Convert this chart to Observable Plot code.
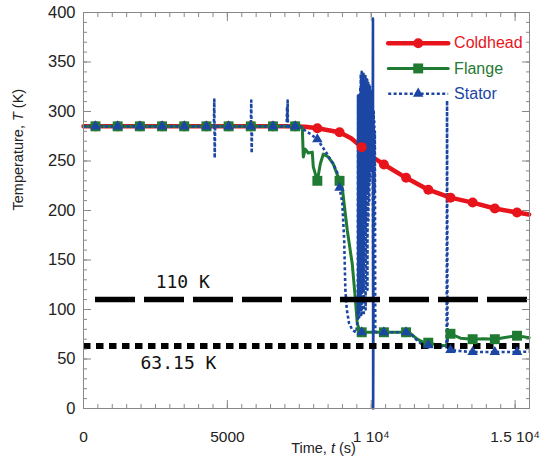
<!DOCTYPE html>
<html><head><meta charset="utf-8">
<script src="https://cdn.jsdelivr.net/npm/d3@7"></script>
<script src="https://cdn.jsdelivr.net/npm/@observablehq/plot@0.6"></script>
<style>
body{margin:0;background:#fff;}
#chart svg{font-family:"Liberation Sans",Arial,sans-serif;}
</style>
</head><body><div id="chart"></div>
<script>
// ---------- data (time in s, temperature in K) ----------
const coldheadLine = [[0,285],[7000,285],[7700,284.5],[8127,283],[8898,279],[9300,273],[9669,264],[10100,253],[10440,246.5],[11211,233],[11982,221],[12753,213],[13524,208],[14295,202],[15066,198],[15486,196]];
const flangeLine = [[0,285],[7560,285],[7604,284],[7639,254],[7708,262],[7813,258],[7951,259],[7986,244],[8127,230],[8229,247],[8333,257],[8507,254],[8681,247],[8898,230],[8993,223],[9167,180],[9340,146],[9444,112],[9514,86],[9600,78],[9669,77],[10440,77],[11211,77],[11350,76],[11600,70],[11800,67],[11982,66.5],[12300,64],[12620,63.5],[12660,75.5],[12753,75.5],[13100,71],[13524,70],[13900,70.5],[14295,70],[14700,72],[15066,73.5],[15486,71.5]];
const statorLine = [[0,285],[4530,285],[4545,312],[4560,253],[4575,285],[5815,285],[5830,311],[5845,258],[5860,285],[7060,285],[7075,305],[7085,290],[7095,311],[7105,283],[7120,285],[7535,285],[7639,282],[7900,277],[8127,272],[8403,260],[8681,247],[8854,236],[8898,223],[8993,208],[9060,170],[9100,120],[9150,100],[9230,86],[9350,79],[9480,77],
  [9530,90],[9540,316],[9548,95],[9556,314],[9564,110],[9572,316],[9580,92],[9588,312],[9596,130],[9604,318],[9612,100],[9620,325],[9628,160],[9636,338],[9644,92],[9652,336],[9660,180],[9668,340],[9676,96],[9684,334],[9692,200],[9700,339],[9708,120],[9716,332],[9724,190],[9732,338],[9740,94],[9748,330],[9756,210],[9764,336],[9772,150],[9780,332],[9788,220],[9796,338],[9804,100],[9812,330],[9820,230],[9828,334],[9836,180],[9844,328],[9852,240],[9860,332],[9868,120],[9876,326],[9884,220],[9892,330],[9900,190],[9908,324],[9916,250],[9924,328],[9932,210],[9940,320],[9948,260],[9956,326],[9964,230],[9972,318],[9980,250],[9988,322],[9996,240],[10004,315],[10012,260],[10020,318],[10030,250],[10040,300],[10050,270],
  [10075,90],[10085,300],[10095,180],[10105,290],[10115,220],[10125,280],[10140,78],
  [10200,77],[10440,77],[11211,77],[11350,76],[11550,70],[11750,65],[11982,64],[12400,63],[12620,62],[12635,311],[12650,60],[12753,59],[13100,58],[13524,57],[14295,57],[15066,57],[15486,57.5]];
const statorGlitch = [[10050,270],[10060,394],[10066,0],[10075,90]];

const markerTimes   = [417,1188,1959,2730,3501,4272,5043,5814,6585,7356,8127,8898,9669,10440,11211,11982,12753,13524,14295,15066];
const coldheadMarks = [285,285,285,285,285,285,285,285,285,285,283,279,264,246.5,233,221,213,208,202,198];
const flangeMarks   = [285,285,285,285,285,285,285,285,285,285,230,230,77,77,77,66.5,75.5,70,70,73.5];
const statorMarks   = [285,285,285,285,285,285,285,285,285,285,272,223,77,77,77,64,59,57,57,57];

const seriesNames = ["Coldhead","Flange","Stator"];
const thresholdValues = [110, 63.15];
const thresholdLabels = ["110 K", "63.15 K"];
const thresholdStart  = [417, 0];

const xMajorTicks = [0, 5000, 10000, 15000];
const xTickLabels = ["0", "5000", "1 10\u2074", "1.5 10\u2074"];
const yMajorTicks = [0, 50, 100, 150, 200, 250, 300, 350, 400];

// ---------- styling / layout ----------
const RED = "#e8141c", GREEN = "#1f7a32", BLUE = "#1c46a4";
const colors = [RED, GREEN, BLUE];
const xMinorTicks = d3.range(0, 15501, 500);
const yMinorTicks = d3.range(0, 401, 10);
const legend = {x1: 10590, x2: 12674, xm: 11632, xt: 12880, rows: [369, 343.5, 318]};
const DOTS = "3,2.4";

const pts = a => a.map(([t, T]) => ({t, T}));
const marks = vals => markerTimes.map((t, i) => ({t, T: vals[i]}));
const fmtX = d => xTickLabels[xMajorTicks.indexOf(d)];

const legendData = seriesNames.map((name, i) => ({name, i, y: legend.rows[i]}));
const legendLines = legendData.flatMap(d => [{...d, x: legend.x1}, {...d, x: legend.x2}]);

const chart = Plot.plot({
  width: 540, height: 463,
  marginLeft: 83, marginRight: 11, marginTop: 12, marginBottom: 55,
  x: {domain: [0, 15500]},
  y: {domain: [0, 400]},
  style: {fontFamily: "Liberation Sans, Arial, sans-serif", background: "#fff", color: "#333", overflow: "visible"},
  marks: [
    // series lines
    Plot.line(pts(coldheadLine), {x: "t", y: "T", stroke: RED, strokeWidth: 4.5}),
    Plot.line(pts(flangeLine), {x: "t", y: "T", stroke: GREEN, strokeWidth: 3}),
    Plot.line(pts(statorLine), {x: "t", y: "T", stroke: BLUE, strokeWidth: 2.6, strokeDasharray: DOTS, strokeLinecap: "butt"}),
    Plot.line(pts(statorGlitch), {x: "t", y: "T", stroke: BLUE, strokeWidth: 2.6}),
    // thresholds
    Plot.ruleY([thresholdValues[0]], {x1: thresholdStart[0], x2: 15500, stroke: "#000", strokeWidth: 5.5, strokeDasharray: "40,9"}),
    Plot.ruleY([thresholdValues[1]], {x1: thresholdStart[1], x2: 15500, stroke: "#000", strokeWidth: 6, strokeDasharray: "7.5,5.5"}),
    Plot.text([0], {x: 3450, y: thresholdValues[0], text: () => thresholdLabels[0], dy: -17, fontSize: 18, fontFamily: "DejaVu Sans Mono, Liberation Mono, monospace", fill: "#111"}),
    Plot.text([0], {x: 3300, y: thresholdValues[1], text: () => thresholdLabels[1], dy: 17, fontSize: 18, fontFamily: "DejaVu Sans Mono, Liberation Mono, monospace", fill: "#111"}),
    // markers
    Plot.dot(marks(coldheadMarks), {x: "t", y: "T", r: 5, fill: RED, stroke: "none"}),
    Plot.dot(marks(flangeMarks), {x: "t", y: "T", r: 5.6, symbol: "square", fill: GREEN, stroke: "none"}),
    Plot.dot(marks(statorMarks), {x: "t", y: "T", r: 3.9, symbol: "triangle", fill: BLUE, stroke: "none"}),
    // legend
    Plot.line(legendLines.filter(d => d.i === 0), {x: "x", y: "y", stroke: RED, strokeWidth: 4.5}),
    Plot.line(legendLines.filter(d => d.i === 1), {x: "x", y: "y", stroke: GREEN, strokeWidth: 3}),
    Plot.line(legendLines.filter(d => d.i === 2), {x: "x", y: "y", stroke: BLUE, strokeWidth: 2.6, strokeDasharray: DOTS, strokeLinecap: "butt"}),
    Plot.dot(legendData.filter(d => d.i === 0), {x: () => legend.xm, y: "y", r: 5, fill: RED}),
    Plot.dot(legendData.filter(d => d.i === 1), {x: () => legend.xm, y: "y", r: 5.6, symbol: "square", fill: GREEN}),
    Plot.dot(legendData.filter(d => d.i === 2), {x: () => legend.xm, y: "y", r: 3.9, symbol: "triangle", fill: BLUE}),
    Plot.text(legendData, {x: () => legend.xt, y: "y", text: "name", fill: d => colors[d.i], textAnchor: "start", fontSize: 16}),
    // axes: labels
    Plot.axisX(xMajorTicks, {anchor: "bottom", tickSize: 0, tickPadding: 22, tickFormat: fmtX, stroke: "none", fontSize: 15.5, fill: "#222", label: null}),
    Plot.axisY(yMajorTicks, {anchor: "left", tickSize: 0, tickPadding: 8, stroke: "none", fontSize: 16.5, fill: "#222", label: null}),
    // axes: inward ticks
    Plot.axisX(xMinorTicks, {anchor: "bottom", tickSize: -4, fill: "none", stroke: "#888", label: null}),
    Plot.axisX(xMinorTicks, {anchor: "top", tickSize: -4, fill: "none", stroke: "#888", label: null}),
    Plot.axisX(xMajorTicks, {anchor: "bottom", tickSize: -8, fill: "none", stroke: "#888", label: null}),
    Plot.axisX(xMajorTicks, {anchor: "top", tickSize: -8, fill: "none", stroke: "#888", label: null}),
    Plot.axisY(yMinorTicks, {anchor: "left", tickSize: -4, fill: "none", stroke: "#888", label: null}),
    Plot.axisY(yMinorTicks, {anchor: "right", tickSize: -4, fill: "none", stroke: "#888", label: null}),
    Plot.axisY(yMajorTicks, {anchor: "left", tickSize: -8, fill: "none", stroke: "#888", label: null}),
    Plot.axisY(yMajorTicks, {anchor: "right", tickSize: -8, fill: "none", stroke: "#888", label: null}),
    Plot.frame({stroke: "#888", strokeWidth: 1}),
    // axis titles
    Plot.text(["Time, t (s)"], {frameAnchor: "bottom", dx: 17, dy: 44, fontSize: 14.5, fill: "#222"}),
    Plot.text(["Temperature, T (K)"], {frameAnchor: "left", dx: -65, rotate: -90, fontSize: 14.5, fill: "#222"})
  ]
});
document.getElementById("chart").appendChild(chart);

// italic variable letters in axis titles
d3.select(chart).selectAll("text").each(function () {
  const s = this.textContent;
  const m = s === "Time, t (s)" ? ["Time, ", "t", " (s)"] : s === "Temperature, T (K)" ? ["Temperature, ", "T", " (K)"] : null;
  if (!m) return;
  const el = d3.select(this);
  el.text(null);
  el.append("tspan").text(m[0]);
  el.append("tspan").attr("font-style", "italic").text(m[1]);
  el.append("tspan").text(m[2]);
});
</script>
</body></html>
